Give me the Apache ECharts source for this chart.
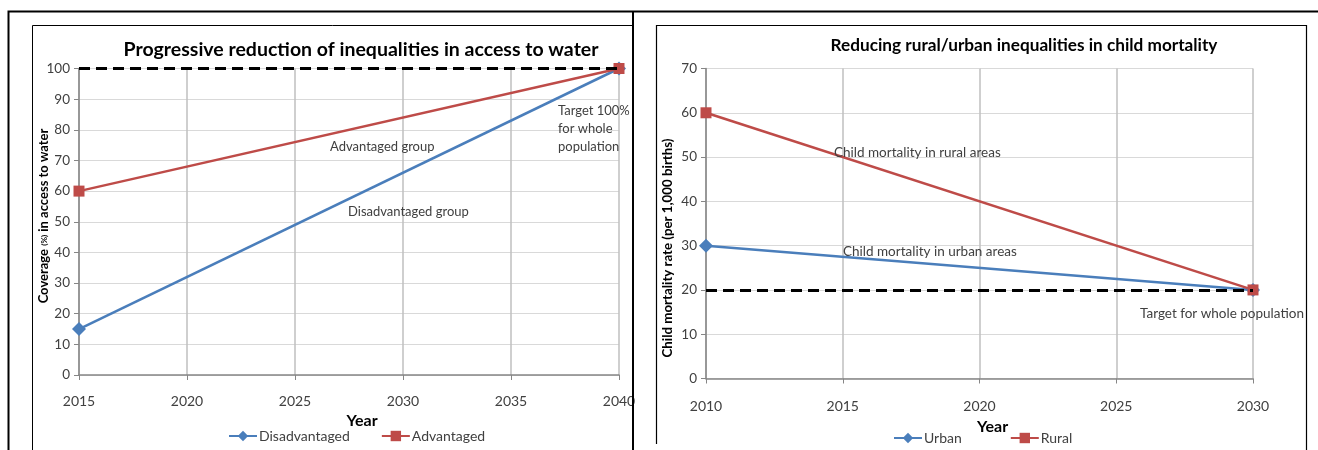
<!DOCTYPE html>
<html>
<head>
<meta charset="utf-8">
<script src="https://cdn.jsdelivr.net/npm/echarts@6/dist/echarts.min.js"></script>
<style>
  html, body { margin: 0; padding: 0; background: #fff; }
  #chart { width: 1318px; height: 450px; }
</style>
</head>
<body>
<div id="chart"></div>
<script>
// Access to water: coverage (%) by group
const waterYears = [2015, 2040];
const disadvantaged = [15, 100];
const advantaged = [60, 100];
const waterTarget = 100;
const waterTicks = { xMin: 2015, xMax: 2040, xStep: 5, yMin: 0, yMax: 100, yStep: 10 };

// Child mortality rate (per 1,000 births) by area
const mortYears = [2010, 2030];
const urban = [30, 20];
const rural = [60, 20];
const mortTarget = 20;
const mortTicks = { xMin: 2010, xMax: 2030, xStep: 5, yMin: 0, yMax: 70, yStep: 10 };

const BLUE = '#4a7ebb';
const RED = '#be4b48';
const FONT = 'Lato, "Open Sans", sans-serif';
const TXT = '#404040';

const pairs = (xs, ys) => xs.map((x, i) => [x, ys[i]]);

function xAxisFor(grid, t, gap, labelMargin) {
  return {
    type: 'value', gridIndex: grid, min: t.xMin, max: t.xMax, interval: t.xStep,
    name: 'Year', nameLocation: 'middle', nameGap: gap,
    nameTextStyle: { fontFamily: FONT, fontWeight: 'bold', fontSize: 16, color: '#000', padding: [0, 0, 0, 26] },
    axisLine: { lineStyle: { color: '#868686', width: 1.5 } },
    axisTick: { show: true, length: 5, lineStyle: { color: '#868686' } },
    axisLabel: { fontFamily: FONT, fontSize: 14, color: TXT, margin: labelMargin, formatter: v => String(v) },
    splitLine: { show: true, lineStyle: { color: '#bfbfbf', width: 1.5 } }
  };
}
function yAxisFor(grid, t) {
  return {
    type: 'value', gridIndex: grid, min: t.yMin, max: t.yMax, interval: t.yStep,
    axisLine: { show: true, lineStyle: { color: '#868686', width: 1.5 } },
    axisTick: { show: true, length: 5, lineStyle: { color: '#868686' } },
    axisLabel: { fontFamily: FONT, fontSize: 13.5, color: TXT, margin: 9 },
    splitLine: { show: true, lineStyle: { color: '#d9d9d9', width: 1 } }
  };
}
function targetLine(value) {
  return {
    silent: true, symbol: 'none', label: { show: false },
    lineStyle: { color: '#000', type: [11, 6], width: 3 },
    data: [{ yAxis: value }]
  };
}
function lineSeries(name, data, color, symbol, size, xi, extra) {
  return Object.assign({
    name, type: 'line', xAxisIndex: xi, yAxisIndex: xi, data,
    symbol, symbolSize: size, showSymbol: true,
    lineStyle: { color, width: 2.5 }, itemStyle: { color },
    emphasis: { disabled: true }, animation: false
  }, extra || {});
}
function note(text, x, y, size, align) {
  return {
    type: 'text', x, y, z: 50,
    style: { text, fill: TXT, font: `${size || 13}px ${FONT}`, textAlign: align || 'left', textVerticalAlign: 'middle', lineHeight: 18 }
  };
}

const chart = echarts.init(document.getElementById('chart'), null, { renderer: 'canvas' });

chart.setOption({
  animation: false,
  backgroundColor: '#fff',
  title: [
    { text: 'Progressive reduction of inequalities in access to water', left: 356, top: 35, textAlign: 'center',
      textStyle: { fontFamily: FONT, fontWeight: 'bold', fontSize: 19.5, color: '#000' } },
    { text: 'Reducing rural/urban inequalities in child mortality', left: 1019, top: 32, textAlign: 'center',
      textStyle: { fontFamily: FONT, fontWeight: 'bold', fontSize: 17.2, color: '#000' } }
  ],
  legend: [
    { data: ['Disadvantaged', 'Advantaged'], left: 223, top: 424, itemWidth: 28, itemHeight: 13, itemGap: 31,
      itemStyle: {}, textStyle: { fontFamily: FONT, fontSize: 14, color: TXT, padding: [0, 0, 0, -3] }, selectedMode: false },
    { data: ['Urban', 'Rural'], left: 888, top: 426, itemWidth: 28, itemHeight: 13, itemGap: 48,
      textStyle: { fontFamily: FONT, fontSize: 14, color: TXT, padding: [0, 0, 0, -3] }, selectedMode: false }
  ],
  grid: [
    { left: 79, right: 1318 - 619, top: 68.5, bottom: 450 - 375 },
    { left: 706, right: 1318 - 1253, top: 68.5, bottom: 450 - 378.5 }
  ],
  xAxis: [xAxisFor(0, waterTicks, 38, 19), xAxisFor(1, mortTicks, 40, 21)],
  yAxis: [yAxisFor(0, waterTicks), yAxisFor(1, mortTicks)],
  series: [
    lineSeries('Disadvantaged', pairs(waterYears, disadvantaged), BLUE, 'diamond', 14, 0,
      { markLine: targetLine(waterTarget) }),
    lineSeries('Advantaged', pairs(waterYears, advantaged), RED, 'rect', 11, 0),
    lineSeries('Urban', pairs(mortYears, urban), BLUE, 'diamond', 14, 1,
      { markLine: targetLine(mortTarget) }),
    lineSeries('Rural', pairs(mortYears, rural), RED, 'rect', 11, 1)
  ],
  graphic: [
    // page frames
    { type: 'polyline', z: 100, shape: { points: [[8.5, 450], [8.5, 11.5], [1318, 11.5]] },
      style: { stroke: '#000', lineWidth: 2, fill: null } },
    { type: 'line', z: 100, shape: { x1: 633, y1: 11, x2: 633, y2: 450 }, style: { stroke: '#000', lineWidth: 2 } },
    { type: 'polyline', z: 100, shape: { points: [[32.5, 450], [32.5, 25.5], [632, 25.5]] },
      style: { stroke: '#000', lineWidth: 1, fill: null } },
    { type: 'polyline', z: 100, shape: { points: [[656.5, 444], [656.5, 25.5], [1306.5, 25.5], [1306.5, 450]] },
      style: { stroke: '#000', lineWidth: 1.2, fill: null } },
    // rotated axis titles
    { type: 'text', x: 44, y: 216, rotation: Math.PI / 2, z: 50,
      style: { text: '{b|Coverage }{s|(%)}{b| in access to water}', textAlign: 'center', textVerticalAlign: 'middle',
        rich: { b: { font: `bold 13px ${FONT}`, fill: '#000' }, s: { font: `bold 8px ${FONT}`, fill: '#000' } } } },
    { type: 'text', x: 668, y: 248, rotation: Math.PI / 2, z: 50,
      style: { text: 'Child mortality rate (per 1,000 births)', textAlign: 'center', textVerticalAlign: 'middle',
        font: `bold 13.3px ${FONT}`, fill: '#000' } },
    // in-plot notes
    note('Advantaged group', 330, 147),
    note('Disadvantaged group', 348, 212),
    note('Target 100%\nfor whole\npopulation', 558, 129),
    note('Child mortality in rural areas', 834, 153, 13.5),
    note('Child mortality in urban areas', 843, 252, 13.5),
    note('Target for whole population', 1140, 314, 13.5)
  ]
});
</script>
</body>
</html>
